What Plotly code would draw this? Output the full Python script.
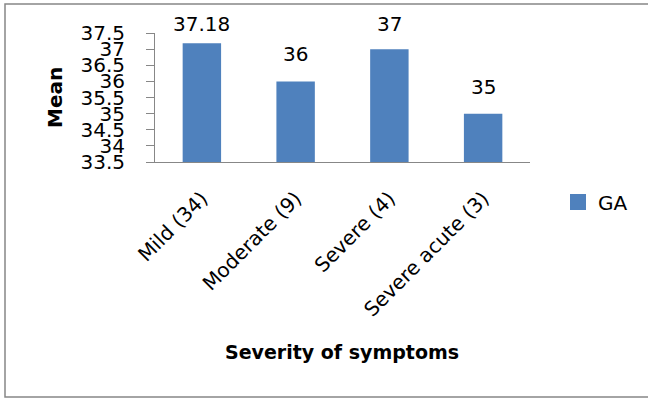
import plotly.graph_objects as go

categories = ["Mild (34)", "Moderate (9)", "Severe (4)", "Severe acute (3)"]
ga_values = [37.18, 36, 37, 35]
value_labels = ["37.18", "36", "37", "35"]
y_ticks = [33.5, 34, 34.5, 35, 35.5, 36, 36.5, 37, 37.5]
y_tick_labels = ["33.5", "34", "34.5", "35", "35.5", "36", "36.5", "37", "37.5"]

FONT = "DejaVu Sans"
BAR_COLOR = "#4F81BD"
Y_MIN, Y_MAX = 33.5, 37.5
L, R, T, B = 155, 530, 33, 162
W, H = 648, 400
pw, ph = R - L, B - T

def px(x):
    return (x - L) / pw

def py(y):
    return (B - y) / ph

fig = go.Figure()
fig.add_trace(go.Bar(
    x=categories, y=ga_values, name="GA", showlegend=False,
    marker=dict(color=BAR_COLOR, line=dict(width=0)),
    cliponaxis=False, width=0.41,
))
# legend entry with a larger square swatch
fig.add_trace(go.Scatter(
    x=[None], y=[None], mode="markers", name="GA",
    marker=dict(symbol="square", size=16, color=BAR_COLOR),
))

# data labels placed above bars (kept inside the chart at the top)
for cat, val, lab in zip(categories, ga_values, value_labels):
    bar_top_px = B - (val - Y_MIN) / (Y_MAX - Y_MIN) * ph
    shift = min(13, bar_top_px - 38)
    fig.add_annotation(x=cat, y=val, text=lab, showarrow=False,
                       xanchor="center", yanchor="bottom", yshift=shift,
                       font=dict(size=20, family=FONT, color="black"))

fig.update_layout(
    width=W, height=H,
    margin=dict(l=L, r=W - R, t=T, b=H - B, autoexpand=False),
    paper_bgcolor="white", plot_bgcolor="white",
    font=dict(family=FONT, size=20, color="black"),
    showlegend=True,
    legend=dict(x=px(558), y=py(202), xanchor="left", yanchor="middle",
                font=dict(size=20, family=FONT), itemwidth=30,
                bgcolor="rgba(0,0,0,0)"),
    bargap=0.59,
)
fig.update_xaxes(
    showline=True, linecolor="#878787", linewidth=1,
    tickangle=-45, tickfont=dict(size=20, family=FONT),
    ticks="", showgrid=False, ticklabelstandoff=16,
)
fig.update_yaxes(
    range=[Y_MIN, Y_MAX], tickvals=y_ticks, ticktext=y_tick_labels,
    showline=True, linecolor="#878787", linewidth=1,
    ticks="outside", ticklen=8, tickcolor="#878787",
    tickfont=dict(size=20, family=FONT), showgrid=False,
    ticklabelstandoff=17,
)
fig.add_annotation(text="<b>Mean</b>", xref="paper", yref="paper",
                   x=px(55), y=py(98), xanchor="center", yanchor="middle",
                   textangle=-90, showarrow=False,
                   font=dict(size=20, family=FONT))
fig.add_annotation(text="<b>Severity of symptoms</b>", xref="paper", yref="paper",
                   x=px(342), y=py(352), xanchor="center", yanchor="middle",
                   showarrow=False, font=dict(size=19, family=FONT))
fig.add_shape(type="rect", xref="paper", yref="paper",
              x0=px(5), x1=px(652), y0=py(397), y1=py(4),
              line=dict(color="#878787", width=1.5), fillcolor="rgba(0,0,0,0)")

fig.write_html("out.html", config={"displayModeBar": False},
               post_script="document.body.style.margin='0';")
